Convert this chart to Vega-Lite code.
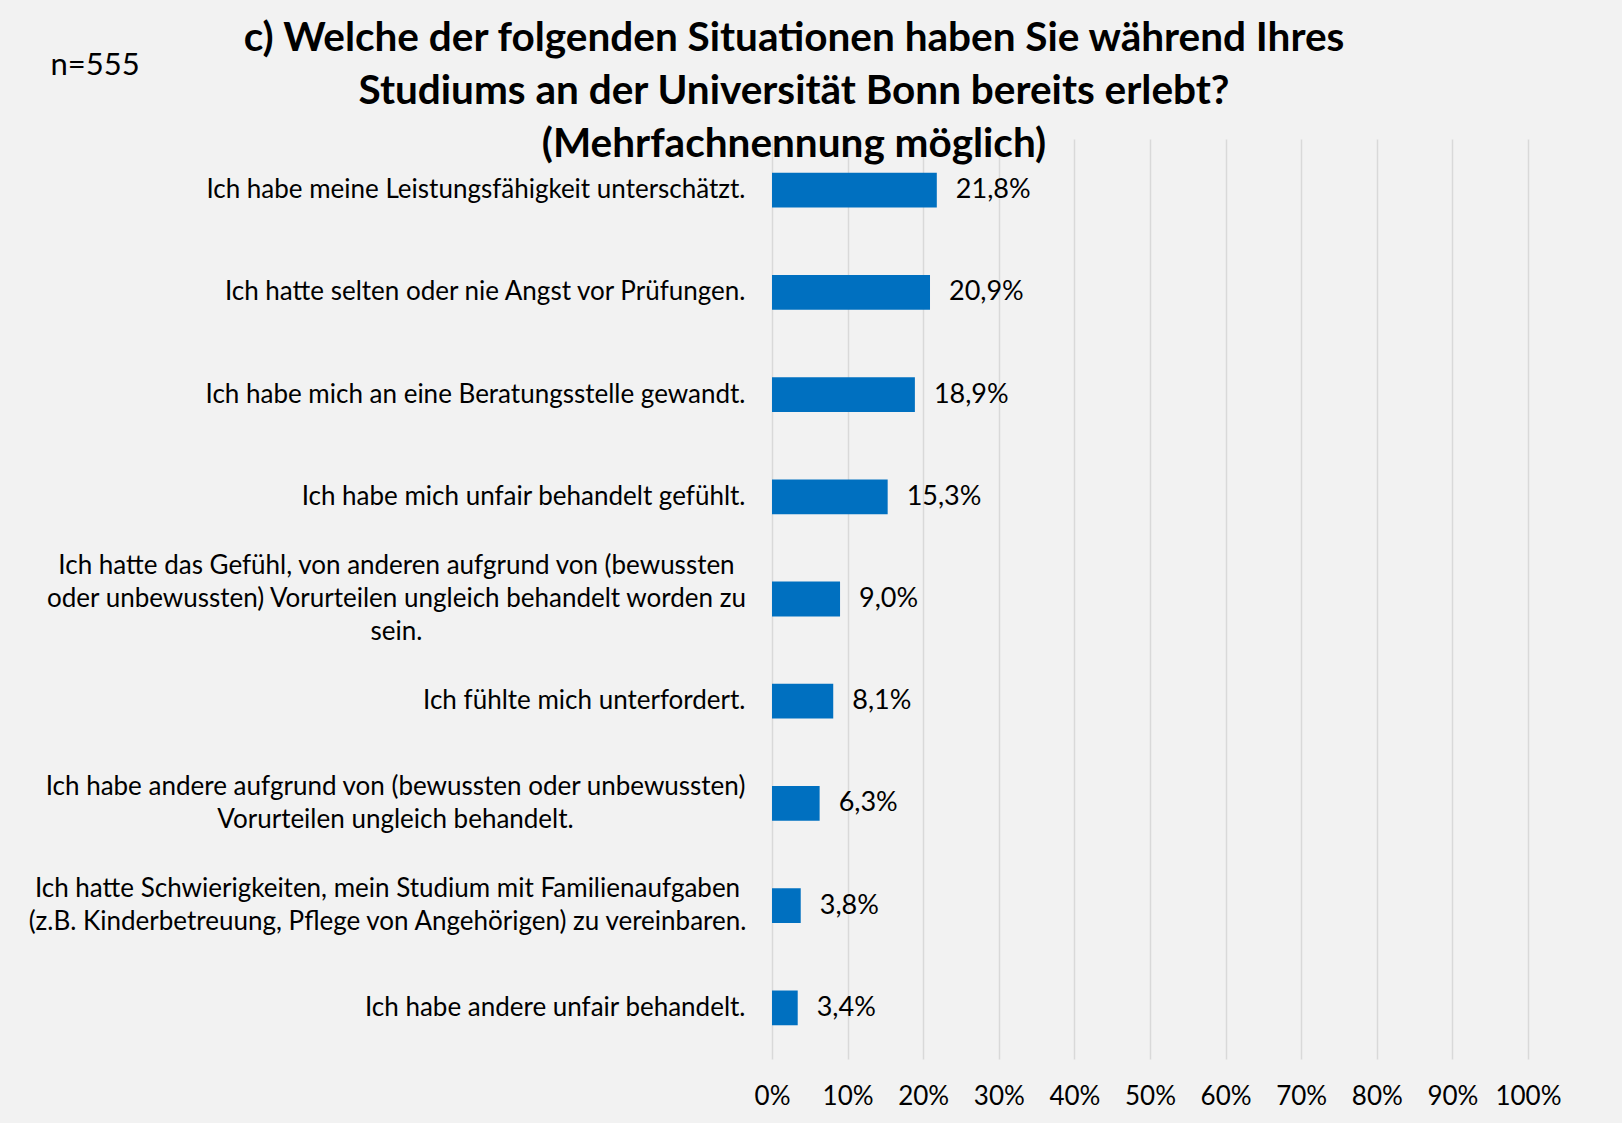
{
  "$schema": "https://vega.github.io/schema/vega-lite/v6.json",
  "autosize": {"type": "none"},
  "width": 756,
  "height": 920,
  "padding": {"left": 772, "top": 139, "right": 94, "bottom": 64},
  "background": "#f2f2f2",
  "config": {
    "view": {"stroke": null},
    "font": "Lato",
    "locale": {"number": {"decimal": ",", "thousands": ".", "grouping": [3], "currency": ["", " €"]}}
  },
  "title": {
    "text": ["c) Welche der folgenden Situationen haben Sie während Ihres", "Studiums an der Universität Bonn bereits erlebt?", "(Mehrfachnennung möglich)"],
    "font": "Lato",
    "fontSize": 40.5,
    "fontWeight": "bold",
    "color": "#000000",
    "lineHeight": 53,
    "anchor": "middle",
    "frame": "group",
    "dx": -356,
    "offset": -116
  },
  "data": {
    "values": [
      {"situation": "Ich habe meine Leistungsfähigkeit unterschätzt.", "share": 0.218},
      {"situation": "Ich hatte selten oder nie Angst vor Prüfungen.", "share": 0.209},
      {"situation": "Ich habe mich an eine Beratungsstelle gewandt.", "share": 0.189},
      {"situation": "Ich habe mich unfair behandelt gefühlt.", "share": 0.153},
      {"situation": "Ich hatte das Gefühl, von anderen aufgrund von (bewussten|oder unbewussten) Vorurteilen ungleich behandelt worden zu|sein.", "share": 0.090},
      {"situation": "Ich fühlte mich unterfordert.", "share": 0.081},
      {"situation": "Ich habe andere aufgrund von (bewussten oder unbewussten)|Vorurteilen ungleich behandelt.", "share": 0.063},
      {"situation": "Ich hatte Schwierigkeiten, mein Studium mit Familienaufgaben|(z.B. Kinderbetreuung, Pflege von Angehörigen) zu vereinbaren.", "share": 0.038},
      {"situation": "Ich habe andere unfair behandelt.", "share": 0.034}
    ]
  },
  "encoding": {
    "y": {
      "field": "situation",
      "type": "nominal",
      "sort": null,
      "scale": {"paddingInner": 0.66, "paddingOuter": 0.33},
      "axis": {
        "title": "n=555",
        "titleAngle": 0,
        "titleX": -722,
        "titleY": -74,
        "titleAlign": "left",
        "titleBaseline": "middle",
        "titleFont": "Lato",
        "titleFontSize": 31,
        "titleFontWeight": "normal",
        "titleColor": "#000000",
        "domain": false,
        "ticks": false,
        "labelLimit": 0,
        "labelFont": "Lato",
        "labelFontSize": 26,
        "labelColor": "#000000",
        "labelBaseline": "middle",
        "labelLineHeight": 33,
        "labelOverlap": false,
        "labelAlign": {
          "condition": {"test": "indexof(datum.value, '|') >= 0", "value": "center"},
          "value": "right"
        },
        "labelPadding": {
          "condition": [
            {"test": "indexof(datum.value, 'Gefühl, von anderen') >= 0", "value": 376},
            {"test": "indexof(datum.value, 'andere aufgrund') >= 0", "value": 377},
            {"test": "indexof(datum.value, 'Schwierigkeiten') >= 0", "value": 385}
          ],
          "value": 27
        },
        "labelOffset": {
          "condition": [
            {"test": "length(split(datum.value, '|')) == 3", "value": -33},
            {"test": "length(split(datum.value, '|')) == 2", "value": -16.5}
          ],
          "value": 0
        },
        "labelExpr": "split(datum.label, '|')"
      }
    }
  },
  "layer": [
    {
      "mark": {"type": "bar", "color": "#0070c0"},
      "encoding": {
        "x": {
          "field": "share",
          "type": "quantitative",
          "scale": {"domain": [0, 1], "nice": false},
          "axis": {
            "title": null,
            "format": ".0%",
            "values": [0, 0.1, 0.2, 0.3, 0.4, 0.5, 0.6, 0.7, 0.8, 0.9, 1],
            "grid": true,
            "gridColor": "#d9d9d9",
            "gridWidth": 1.5,
            "domain": false,
            "ticks": false,
            "labelPadding": 24,
            "labelFlush": false,
            "labelOverlap": false,
            "labelFont": "Lato",
            "labelFontSize": 26,
            "labelColor": "#000000"
          }
        }
      }
    },
    {
      "mark": {"type": "text", "align": "left", "baseline": "middle", "dx": 19, "font": "Lato", "fontSize": 27, "color": "#000000"},
      "encoding": {
        "x": {"field": "share", "type": "quantitative"},
        "text": {"field": "share", "type": "quantitative", "format": ".1%"}
      }
    }
  ]
}
